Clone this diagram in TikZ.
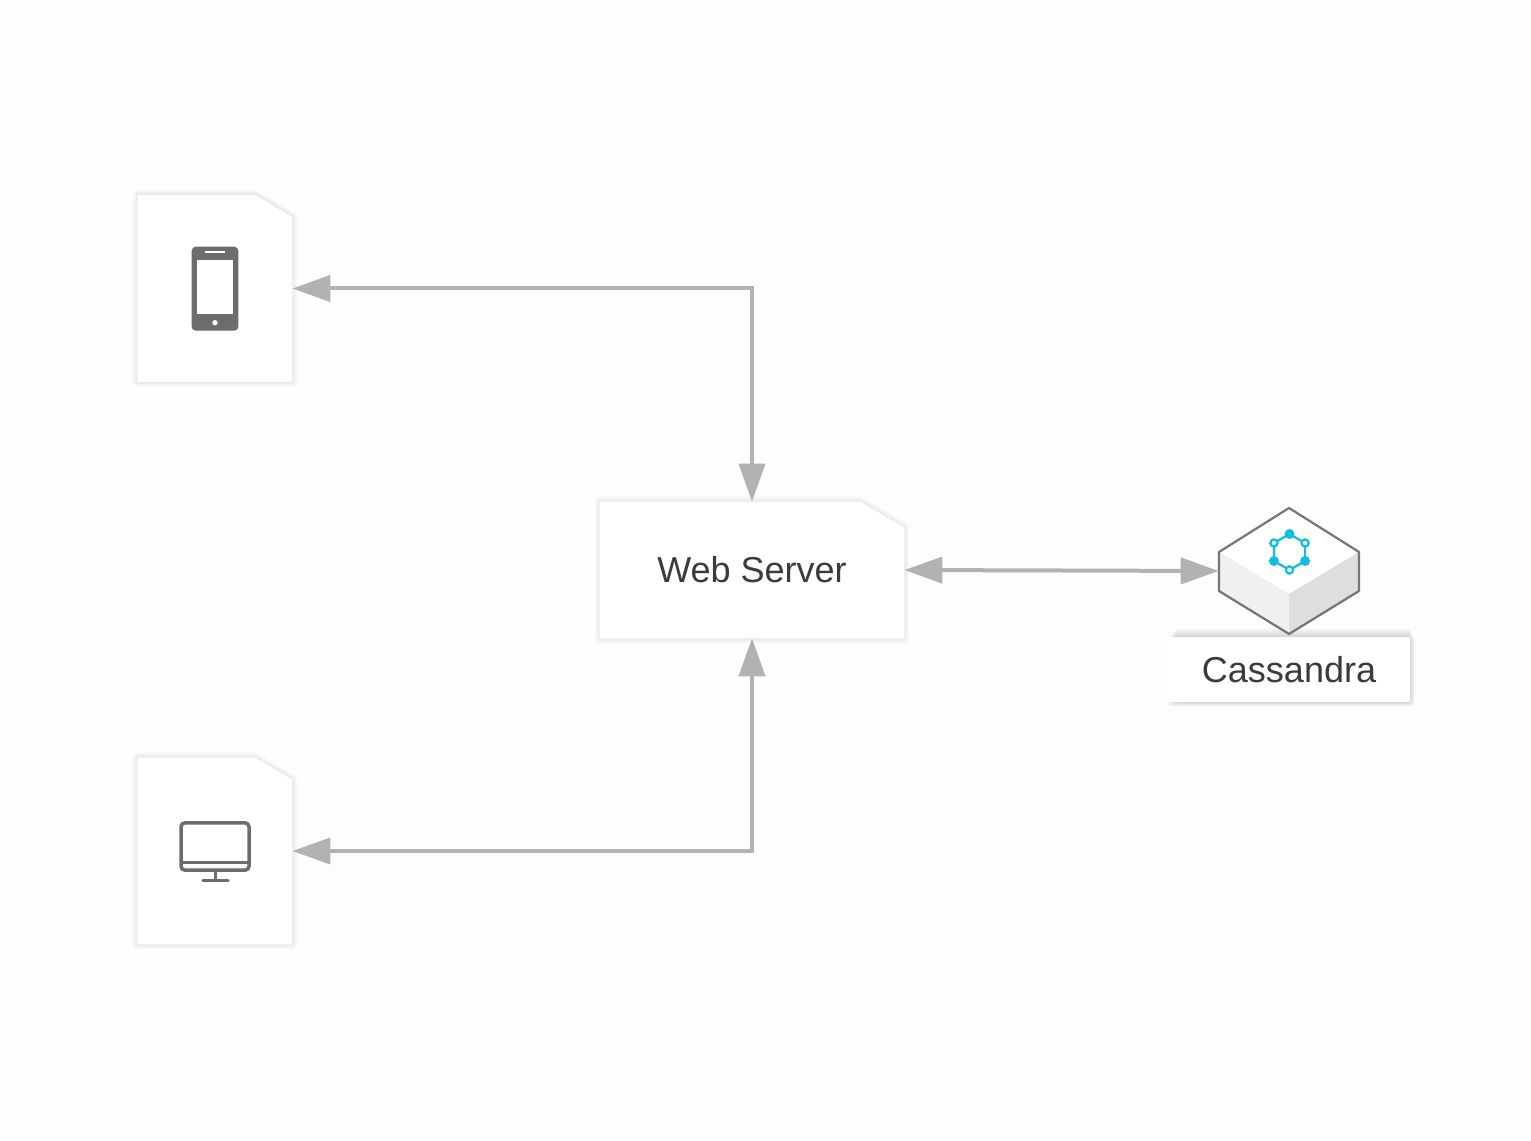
\documentclass[tikz,border=0pt]{standalone}
\usepackage{fontspec}
\setmainfont{Liberation Sans}
\usetikzlibrary{arrows.meta}
\usetikzlibrary{backgrounds}

\definecolor{pagegray}{HTML}{FDFDFD}
\definecolor{linkgray}{HTML}{B2B2B2}
\definecolor{icongray}{HTML}{6D6D6F}
\definecolor{textgray}{HTML}{3C3A3C}
\definecolor{cubegray}{HTML}{777777}
\definecolor{cubeleft}{HTML}{F0F0F0}
\definecolor{cuberight}{HTML}{DEDEDE}
\definecolor{ringcyan}{HTML}{12BDDF}

% sheet with a cut corner behind node #1
\newcommand{\sheetpath}[3]{(#1.north west) -- ([xshift=-#2*0.02cm]#1.north east)
  -- ([yshift=-#3*0.02cm]#1.north east) -- (#1.south east) -- (#1.south west) -- cycle}
\newcommand{\sheetback}[3]{%
  \foreach \w in {2,4,6,8,10}
    \draw[black,opacity=0.014,line width=\w*0.02cm,line join=round,yshift=-0.02cm] \sheetpath{#1}{#2}{#3};
  \fill[white] \sheetpath{#1}{#2}{#3};
}

\begin{document}
\begin{tikzpicture}[
  x=0.02cm,y=-0.02cm,
  >={Triangle[length=0.76cm,width=0.52cm]},
  link/.style = {<->,draw=linkgray,line width=0.08cm},
  sheet/.style = {inner sep=0pt,text=textgray,font=\fontsize{20.5}{24}\selectfont},
  device/.style = {sheet,minimum width=3.08cm,minimum height=3.72cm},
  ring/.style = {ringcyan,line width=0.045cm}
]

  \useasboundingbox (0,0) rectangle (1531,1141);

  \node[device] (phone) at (215,288.5) {};
  \node[device] (desktop) at (215,851) {};
  \node[sheet,minimum width=6.08cm,minimum height=2.72cm] (webserver) at (752,570) {Web Server};
  \node[sheet,minimum width=4.84cm,minimum height=1.3cm] (cassandralabel) at (1289,669.5) {Cassandra};
  \node[inner sep=0pt,minimum width=2.8cm,minimum height=2.52cm] (cassandra) at (1289,571) {};

  \begin{scope}[on background layer]
    \fill[pagegray] (0,0) rectangle (1531,1141);
    \sheetback{phone}{37}{22}
    \sheetback{desktop}{37}{22}
    \sheetback{webserver}{44}{26}
    % the label has a heavier shadow
    \foreach \w in {2,4,6,8,10}
      \fill[black,opacity=0.035,rounded corners=2pt]
        ([xshift=\w*0.02cm-0.04cm,yshift=\w*0.02cm-0.04cm]cassandralabel.north west) rectangle
        ([xshift=0.1cm-\w*0.01cm,yshift=-0.1cm+\w*0.01cm]cassandralabel.south east);
    \fill[white] (cassandralabel.north west) rectangle (cassandralabel.south east);
  \end{scope}

  % phone
  \fill[icongray,rounded corners=4*0.02cm] (191.7,246.7) rectangle (238.3,330.7);
  \fill[white] (197,260) rectangle (233.3,314.3);
  \fill[white] (205,251.5) rectangle (225,253.5);
  \fill[white] (215,322.7) circle (2.7);

  % desktop
  \draw[icongray,line width=0.07cm,rounded corners=4*0.02cm] (181,822.8) rectangle (249,870.2);
  \draw[icongray,line width=0.07cm] (181,862.3) -- (249,862.3);
  \draw[icongray,line width=0.06cm] (215,871) -- (215,880);
  \draw[icongray,line width=0.07cm,line cap=round] (203,880.5) -- (228,880.5);

  % cube
  \coordinate (top) at (1289,508);
  \coordinate (upleft) at (1219,552);
  \coordinate (upright) at (1359,552);
  \coordinate (lowleft) at (1219,591);
  \coordinate (lowright) at (1359,591);
  \coordinate (bottom) at (1289,634);
  \coordinate (middle) at (1289,594);
  \fill[white] (top) -- (upright) -- (middle) -- (upleft) -- cycle;
  \fill[cubeleft] (upleft) -- (middle) -- (bottom) -- (lowleft) -- cycle;
  \fill[cuberight] (upright) -- (middle) -- (bottom) -- (lowright) -- cycle;
  \draw[cubegray,line width=0.045cm,line join=round] (top) -- (upright) -- (lowright) -- (bottom) -- (lowleft) -- (upleft) -- cycle;

  \begin{scope}[shift={(1289.5,552)}]
    \draw[ring] (90:18) -- (30:18) -- (-30:18) -- (-90:18) -- (-150:18) -- (150:18) -- cycle;
    \foreach \a in {-90,30,150}
      \fill[ringcyan] (\a:18) circle (5);
    \foreach \a in {90,-30,-150}
      \draw[ring,fill=white] (\a:18) circle (3.6);
  \end{scope}

  \draw[link] (webserver.north) |- (phone.east);
  \draw[link] (webserver.south) |- (desktop.east);
  \draw[link] (webserver.east) -- (cassandra.west);

\end{tikzpicture}
\end{document}
